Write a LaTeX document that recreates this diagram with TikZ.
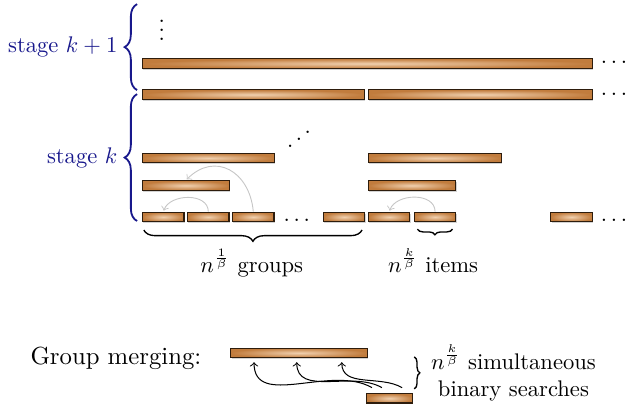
\documentclass[tikz,border=0pt]{standalone}
\usepackage{tikz}
\usetikzlibrary{decorations.pathreplacing,shadows}
\definecolor{slabcopper}{RGB}{193,124,61}
\definecolor{slabshine}{RGB}{240,208,175}
\definecolor{slabedge}{RGB}{45,28,12}
\definecolor{stageblue}{RGB}{24,24,140}
\tikzset{
  slab/.style={draw=slabedge, line width=0.5pt, inner color=slabshine, outer color=slabcopper,
    minimum height=0.147cm, inner sep=0pt, anchor=west,
    drop shadow={shadow xshift=0.4pt, shadow yshift=-0.6pt, opacity=0.35}},
  hop/.style={->, gray!45, line width=0.4pt, shorten >=0.5pt},
  seek/.style={->, black, line width=0.45pt},
  stagebrace/.style={decorate, decoration={brace, amplitude=5.5pt}, stageblue, thick},
  countbrace/.style={decorate, decoration={brace, amplitude=#1}, black, semithick},
}

\begin{document}
\begin{tikzpicture}[x=0.7cm, y=0.7cm]
    \useasboundingbox (-3.156,-4.244) rectangle (10.756,4.822);

    % stage k+1
    \node[anchor=base] (vdts) at (0.44,3.93) {$\vdots$};
    \node[slab, minimum width=7cm] (full) at (0,3.41) {};
    \node[anchor=base] (fulldts) at (10.49,3.41) {$\ldots$};

    % stage k
    \node[slab, minimum width=3.45cm] (halfL) at (0,2.72) {};
    \node[slab, minimum width=3.486cm] (halfR) at (5.02,2.72) {};
    \node[anchor=base] (halfdts) at (10.49,2.71) {$\ldots$};
    \node[anchor=base, xscale=-1] (diagdts) at (3.49,1.5) {$\ddots$};
    \node[slab, minimum width=2.05cm] (triL) at (0,1.31) {};
    \node[slab, minimum width=2.07cm] (triR) at (5.02,1.31) {};
    \node[slab, minimum width=1.35cm] (duoL) at (0,0.7) {};
    \node[slab, minimum width=1.36cm] (duoR) at (5.02,0.7) {};
    \foreach \x/\name in {0/g1, 1/g2, 2/g3, 4.02/g5, 5.02/h1, 6.04/h2, 9.07/z1}
        \node[slab, minimum width=0.645cm] (\name) at (\x,0) {};
    \node[anchor=base] (rowdts) at (3.44,-0.11) {$\ldots$};
    \node[anchor=base] (enddts) at (10.49,-0.11) {$\ldots$};

    % merges inside a stage
    \draw[hop] (g2.north) to[out=90, in=70, looseness=1.1] (g1.north);
    \draw[hop] (g3.north) to[out=95, in=45, looseness=1.4] (duoL.north);
    \draw[hop] (h2.north) to[out=90, in=70, looseness=1.1] (h1.north);

    % braces
    \draw[stagebrace] (-0.11,2.82) -- (-0.11,4.73) node[midway, left=5pt] (stageup) {stage $k+1$};
    \draw[stagebrace] (-0.11,-0.09) -- (-0.11,2.73) node[midway, left=5pt] (stagecur) {stage $k$};
    \draw[countbrace=5pt] (4.89,-0.29) -- (0.04,-0.29);
    \draw[countbrace=2.5pt] (6.9,-0.27) -- (6.12,-0.27);
    \node[anchor=base] (groups) at (2.44,-1.23) {$n^{\frac{1}{\beta}}$ groups};
    \node[anchor=base] (items) at (6.47,-1.23) {$n^{\frac{k}{\beta}}$ items};

    % group merging
    \node[anchor=base, font=\fontsize{10.95}{13}\selectfont] (gm) at (-0.58,-3.27) {Group merging:};
    \node[slab, minimum width=2.128cm] (wide) at (1.96,-3.02) {};
    \node[slab, minimum width=0.714cm] (narrow) at (4.98,-4.03) {};
    \foreach \s/\t in {0.13/0.53, 0.35/1.48, 0.8/2.48}
        \draw[seek] ([shift={(\s,0.12)}]narrow.north west) to[out=150, in=-90] ([shift={(\t,-0.09)}]wide.south west);
    \draw[countbrace=2.5pt] (6.05,-3.11) -- (6.05,-3.82)
        node[midway, right=3.8pt, align=center] (searches) {$n^{\frac{k}{\beta}}$ simultaneous\\binary searches};
\end{tikzpicture}
\end{document}
